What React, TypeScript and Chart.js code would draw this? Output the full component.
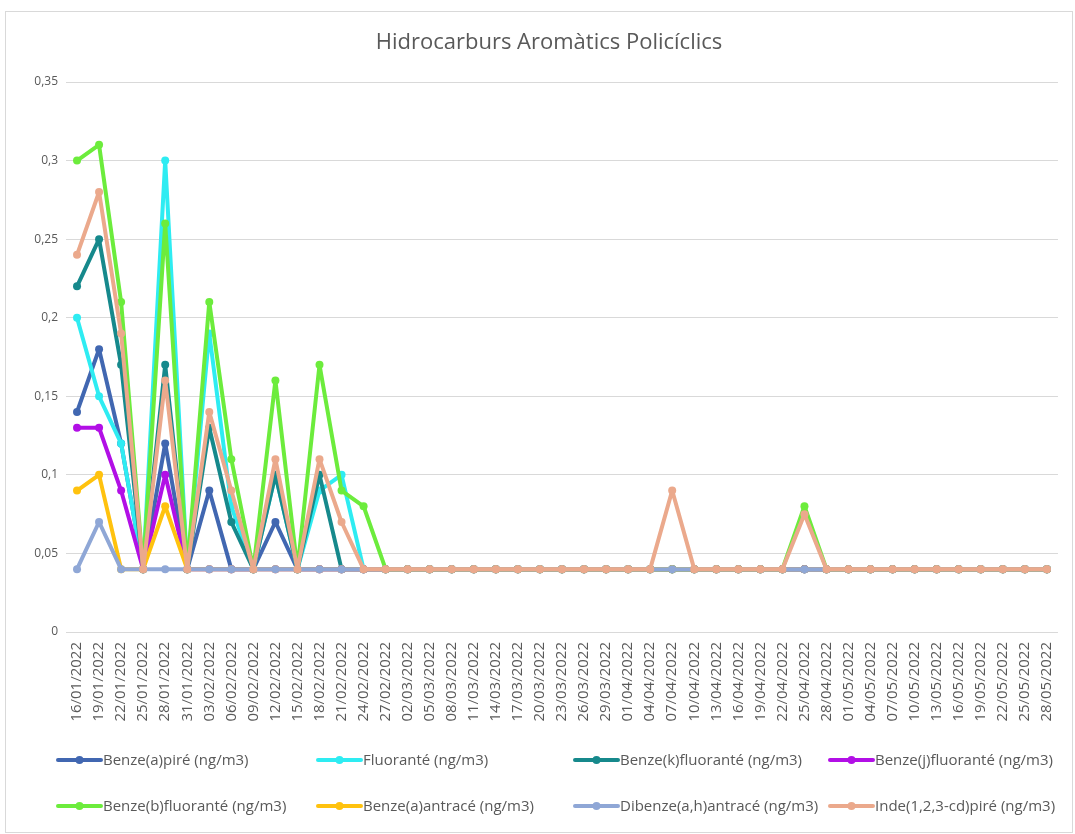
import React, { useEffect, useRef } from "react";
import { Chart, registerables } from "chart.js";

Chart.register(...registerables);

const chartTitle = "Hidrocarburs Aromàtics Policíclics";

const dates = [
  "16/01/2022", "19/01/2022", "22/01/2022", "25/01/2022", "28/01/2022", "31/01/2022",
  "03/02/2022", "06/02/2022", "09/02/2022", "12/02/2022", "15/02/2022", "18/02/2022",
  "21/02/2022", "24/02/2022", "27/02/2022", "02/03/2022", "05/03/2022", "08/03/2022",
  "11/03/2022", "14/03/2022", "17/03/2022", "20/03/2022", "23/03/2022", "26/03/2022",
  "29/03/2022", "01/04/2022", "04/04/2022", "07/04/2022", "10/04/2022", "13/04/2022",
  "16/04/2022", "19/04/2022", "22/04/2022", "25/04/2022", "28/04/2022", "01/05/2022",
  "04/05/2022", "07/05/2022", "10/05/2022", "13/05/2022", "16/05/2022", "19/05/2022",
  "22/05/2022", "25/05/2022", "28/05/2022",
];

const benzoAPirene = [
  0.14, 0.18, 0.12, 0.04, 0.12, 0.04, 0.09, 0.04, 0.04, 0.07, 0.04, 0.04, 0.04, 0.04, 0.04,
  0.04, 0.04, 0.04, 0.04, 0.04, 0.04, 0.04, 0.04, 0.04, 0.04, 0.04, 0.04, 0.04, 0.04, 0.04,
  0.04, 0.04, 0.04, 0.04, 0.04, 0.04, 0.04, 0.04, 0.04, 0.04, 0.04, 0.04, 0.04, 0.04, 0.04,
];
const fluorante = [
  0.2, 0.15, 0.12, 0.04, 0.3, 0.04, 0.19, 0.08, 0.04, 0.1, 0.04, 0.09, 0.1, 0.04, 0.04,
  0.04, 0.04, 0.04, 0.04, 0.04, 0.04, 0.04, 0.04, 0.04, 0.04, 0.04, 0.04, 0.04, 0.04, 0.04,
  0.04, 0.04, 0.04, 0.04, 0.04, 0.04, 0.04, 0.04, 0.04, 0.04, 0.04, 0.04, 0.04, 0.04, 0.04,
];
const benzoKFluorante = [
  0.22, 0.25, 0.17, 0.04, 0.17, 0.04, 0.13, 0.07, 0.04, 0.1, 0.04, 0.1, 0.04, 0.04, 0.04,
  0.04, 0.04, 0.04, 0.04, 0.04, 0.04, 0.04, 0.04, 0.04, 0.04, 0.04, 0.04, 0.04, 0.04, 0.04,
  0.04, 0.04, 0.04, 0.04, 0.04, 0.04, 0.04, 0.04, 0.04, 0.04, 0.04, 0.04, 0.04, 0.04, 0.04,
];
const benzoJFluorante = [
  0.13, 0.13, 0.09, 0.04, 0.1, 0.04, 0.04, 0.04, 0.04, 0.04, 0.04, 0.04, 0.04, 0.04, 0.04,
  0.04, 0.04, 0.04, 0.04, 0.04, 0.04, 0.04, 0.04, 0.04, 0.04, 0.04, 0.04, 0.04, 0.04, 0.04,
  0.04, 0.04, 0.04, 0.04, 0.04, 0.04, 0.04, 0.04, 0.04, 0.04, 0.04, 0.04, 0.04, 0.04, 0.04,
];
const benzoBFluorante = [
  0.3, 0.31, 0.21, 0.04, 0.26, 0.04, 0.21, 0.11, 0.04, 0.16, 0.04, 0.17, 0.09, 0.08, 0.04,
  0.04, 0.04, 0.04, 0.04, 0.04, 0.04, 0.04, 0.04, 0.04, 0.04, 0.04, 0.04, 0.04, 0.04, 0.04,
  0.04, 0.04, 0.04, 0.08, 0.04, 0.04, 0.04, 0.04, 0.04, 0.04, 0.04, 0.04, 0.04, 0.04, 0.04,
];
const benzoAAntracene = [
  0.09, 0.1, 0.04, 0.04, 0.08, 0.04, 0.04, 0.04, 0.04, 0.04, 0.04, 0.04, 0.04, 0.04, 0.04,
  0.04, 0.04, 0.04, 0.04, 0.04, 0.04, 0.04, 0.04, 0.04, 0.04, 0.04, 0.04, 0.04, 0.04, 0.04,
  0.04, 0.04, 0.04, 0.04, 0.04, 0.04, 0.04, 0.04, 0.04, 0.04, 0.04, 0.04, 0.04, 0.04, 0.04,
];
const dibenzoAHAntracene = [
  0.04, 0.07, 0.04, 0.04, 0.04, 0.04, 0.04, 0.04, 0.04, 0.04, 0.04, 0.04, 0.04, 0.04, 0.04,
  0.04, 0.04, 0.04, 0.04, 0.04, 0.04, 0.04, 0.04, 0.04, 0.04, 0.04, 0.04, 0.04, 0.04, 0.04,
  0.04, 0.04, 0.04, 0.04, 0.04, 0.04, 0.04, 0.04, 0.04, 0.04, 0.04, 0.04, 0.04, 0.04, 0.04,
];
const indenoPirene = [
  0.24, 0.28, 0.19, 0.04, 0.16, 0.04, 0.14, 0.09, 0.04, 0.11, 0.04, 0.11, 0.07, 0.04, 0.04,
  0.04, 0.04, 0.04, 0.04, 0.04, 0.04, 0.04, 0.04, 0.04, 0.04, 0.04, 0.04, 0.09, 0.04, 0.04,
  0.04, 0.04, 0.04, 0.075, 0.04, 0.04, 0.04, 0.04, 0.04, 0.04, 0.04, 0.04, 0.04, 0.04, 0.04,
];

const seriesLabels = [
  "Benze(a)piré (ng/m3)",
  "Fluoranté (ng/m3)",
  "Benze(k)fluoranté (ng/m3)",
  "Benze(j)fluoranté (ng/m3)",
  "Benze(b)fluoranté (ng/m3)",
  "Benze(a)antracé (ng/m3)",
  "Dibenze(a,h)antracé (ng/m3)",
  "Inde(1,2,3-cd)piré (ng/m3)",
];
const seriesData = [
  benzoAPirene,
  fluorante,
  benzoKFluorante,
  benzoJFluorante,
  benzoBFluorante,
  benzoAAntracene,
  dibenzoAHAntracene,
  indenoPirene,
];
const seriesColors = [
  "#4167B1",
  "#2EECF2",
  "#16898C",
  "#B20FE6",
  "#6CEC3C",
  "#FFC20E",
  "#8FA7D6",
  "#EBA98C",
];

const yTicks = [0, 0.05, 0.1, 0.15, 0.2, 0.25, 0.3, 0.35];

const FONT = "'Open Sans', 'DejaVu Sans', sans-serif";
const TEXT = "#595959";

export default function App() {
  const ref = useRef<HTMLCanvasElement>(null);

  useEffect(() => {
    if (!ref.current) return;

    const decor = {
      id: "decor",
      afterDraw(chart: any) {
        const ctx = chart.ctx as CanvasRenderingContext2D;
        ctx.save();
        // border
        ctx.strokeStyle = "#D9D9D9";
        ctx.lineWidth = 1;
        ctx.strokeRect(5.5, 11.5, 1067, 821);
        // title
        ctx.fillStyle = TEXT;
        ctx.font = `22px ${FONT}`;
        ctx.textAlign = "center";
        ctx.textBaseline = "middle";
        ctx.fillText(chartTitle, 549, 43);
        // legend
        const cols = [58, 318, 575, 830];
        const rows = [760, 806];
        ctx.textAlign = "left";
        ctx.font = `15px ${FONT}`;
        seriesLabels.forEach((label, i) => {
          const x = cols[i % 4];
          const y = rows[Math.floor(i / 4)];
          ctx.strokeStyle = seriesColors[i];
          ctx.lineWidth = 4;
          ctx.lineCap = "round";
          ctx.beginPath();
          ctx.moveTo(x, y);
          ctx.lineTo(x + 43, y);
          ctx.stroke();
          ctx.fillStyle = seriesColors[i];
          ctx.beginPath();
          ctx.arc(x + 21.5, y, 4, 0, Math.PI * 2);
          ctx.fill();
          ctx.fillStyle = TEXT;
          ctx.fillText(label, x + 45, y + 1);
        });
        ctx.restore();
      },
    };

    const n = seriesLabels.length;
    const chart = new Chart(ref.current, {
      type: "line",
      data: {
        labels: dates,
        datasets: seriesLabels.map((label, i) => ({
          label,
          data: seriesData[i],
          order: n - i,
          borderColor: seriesColors[i],
          backgroundColor: seriesColors[i],
          borderWidth: 4,
          pointRadius: 4,
          pointBorderWidth: 0,
          pointHoverRadius: 4,
          borderJoinStyle: "round" as const,
          borderCapStyle: "round" as const,
          tension: 0,
          fill: false,
        })),
      },
      options: {
        animation: false,
        responsive: false,
        devicePixelRatio: 1,
        layout: { padding: { left: 0, right: 6, top: 82, bottom: 102 } },
        plugins: {
          legend: { display: false },
          title: { display: false },
          tooltip: { enabled: false },
        },
        scales: {
          x: {
            type: "category",
            offset: true,
            grid: { display: false, drawTicks: false },
            border: { display: false },
            ticks: {
              autoSkip: false,
              maxRotation: 90,
              minRotation: 90,
              padding: 10,
              color: TEXT,
              font: { family: FONT, size: 15 },
            },
            afterFit(scale: any) {
              scale.height = 100;
            },
          },
          y: {
            min: 0,
            max: 0.35,
            afterBuildTicks(scale: any) {
              scale.ticks = yTicks.map((v) => ({ value: v }));
            },
            grid: { color: "#D9D9D9", lineWidth: 1, drawTicks: false },
            border: { display: false },
            ticks: {
              padding: 8,
              color: TEXT,
              font: { family: FONT, size: 12 },
              callback: (v: any) => String(Number(Number(v).toFixed(2))).replace(".", ","),
            },
            afterFit(scale: any) {
              scale.width = 66;
            },
          },
        },
      },
      plugins: [decor],
    });

    return () => chart.destroy();
  }, []);

  return (
    <div
      style={{
        position: "fixed",
        left: 0,
        top: 0,
        width: 1075,
        height: 834,
        background: "#FFFFFF",
      }}
    >
      <canvas ref={ref} width={1075} height={834} style={{ display: "block" }} />
    </div>
  );
}
